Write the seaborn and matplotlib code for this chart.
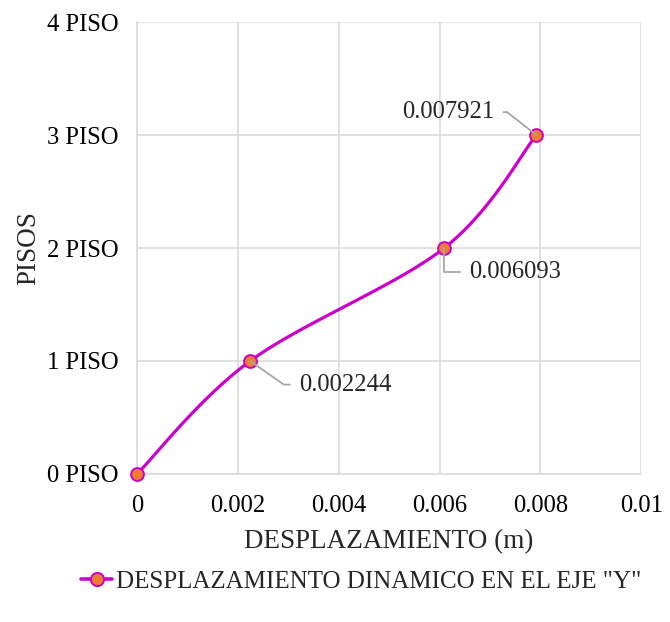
import numpy as np
import pandas as pd
import matplotlib
matplotlib.use("Agg")
import matplotlib.pyplot as plt
import seaborn as sns
from matplotlib.lines import Line2D

# Story drift data
displacement = [0.0, 0.002244, 0.006093, 0.007921]
floors = [0, 1, 2, 3]
floor_labels = ["0 PISO", "1 PISO", "2 PISO", "3 PISO", "4 PISO"]
x_ticks = [0, 0.002, 0.004, 0.006, 0.008, 0.01]
x_tick_labels = ["0", "0.002", "0.004", "0.006", "0.008", "0.01"]
series_name = 'DESPLAZAMIENTO DINAMICO EN EL EJE "Y"'

LINE = "#CC00CC"
MARK = "#ED7D31"
GRID = "#D9D9D9"
LEAD = "#A6A6A6"

sns.set_theme(style="white")
plt.rcParams["font.family"] = ["Liberation Serif", "DejaVu Serif"]

df = pd.DataFrame({"x": displacement, "y": floors})

fig = plt.figure(figsize=(6.7, 6.22), dpi=100)
ax = fig.add_axes([0.2045, 0.238, 0.7525, 0.7265])

ax.set_xlim(0, 0.01)
ax.set_ylim(0, 4)


def smooth_path(xs, ys, n=40):
    """Catmull-Rom style smoothing in display space, like a smoothed line chart."""
    pts = ax.transData.transform(np.column_stack([xs, ys]))
    P = np.vstack([pts[0], pts, pts[-1]])
    out = []
    for i in range(1, len(P) - 2):
        p0, p1, p2, p3 = P[i - 1], P[i], P[i + 1], P[i + 2]
        t = np.linspace(0, 1, n)[:, None]
        seg = 0.5 * ((2 * p1) + (-p0 + p2) * t + (2 * p0 - 5 * p1 + 4 * p2 - p3) * t ** 2
                     + (-p0 + 3 * p1 - 3 * p2 + p3) * t ** 3)
        out.append(seg if i == 1 else seg[1:])
    out = np.vstack(out)
    return ax.transData.inverted().transform(out)


curve = smooth_path(df["x"].values, df["y"].values)
curve_df = pd.DataFrame({"x": curve[:, 0], "y": curve[:, 1]})
sns.lineplot(data=curve_df, x="x", y="y", sort=False, estimator=None, ax=ax,
             color=LINE, lw=2.3, zorder=3)
sns.scatterplot(data=df, x="x", y="y", ax=ax, s=85, color=MARK,
                edgecolor=LINE, linewidth=1.4, zorder=4, clip_on=False)

ax.set_xticks(x_ticks)
ax.set_xticklabels(x_tick_labels)
ax.set_yticks(range(len(floor_labels)))
ax.set_yticklabels(floor_labels)
ax.tick_params(axis="both", labelsize=17.7, colors="black", length=0)
ax.tick_params(axis="x", pad=15)
ax.tick_params(axis="y", pad=13)
ax.grid(True, color=GRID, lw=1.1)
ax.set_axisbelow(True)
for s in ["top", "right"]:
    ax.spines[s].set_visible(False)
for s in ["left", "bottom"]:
    ax.spines[s].set_color(GRID)
    ax.spines[s].set_linewidth(1.1)

ax.set_xlabel("DESPLAZAMIENTO (m)", fontsize=19.5, labelpad=9)
ax.set_ylabel("PISOS", fontsize=19.5, labelpad=4)

# Value labels with leader lines (offsets in points)
offsets = [None, (35, -17), (18, -17), (-30, 16.5)]
angles = [None, -35, 90, 142]
for xv, yv, off, ang in zip(displacement, floors, offsets, angles):
    if off is None:
        continue
    dx, dy = off
    ha = "left" if dx > 0 else "right"
    ax.annotate(f"{xv:.6f}", xy=(xv, yv), xytext=(dx, dy), textcoords="offset points",
                fontsize=17.7, ha=ha, va="center", zorder=5,
                arrowprops=dict(arrowstyle="-", color=LEAD, lw=1.3,
                                shrinkA=4, shrinkB=0,
                                connectionstyle="angle,angleA=0,angleB=%d" % ang))

# Legend
handle = Line2D([], [], color=LINE, lw=2.6, marker="o", markersize=9.5,
                markerfacecolor=MARK, markeredgecolor=LINE, markeredgewidth=1.4)
fig.legend([handle], [series_name], loc="center", bbox_to_anchor=(0.539, 0.065),
           frameon=False, fontsize=18, handlelength=1.25, handletextpad=0.15)

fig.savefig("out.png", dpi=100)
